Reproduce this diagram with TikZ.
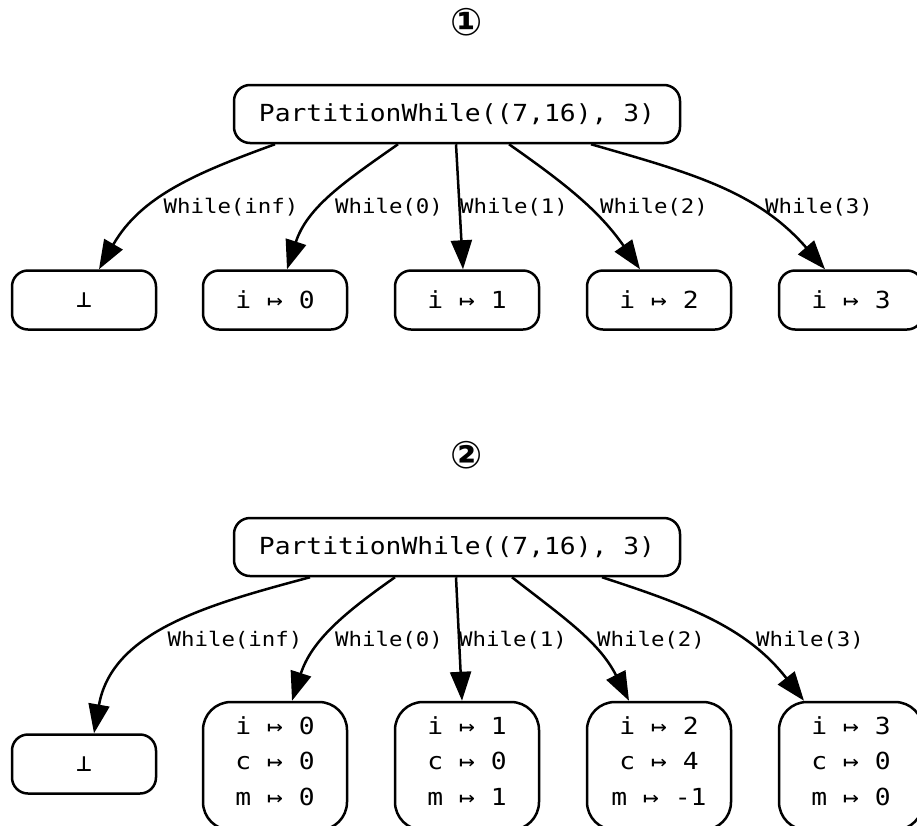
\documentclass[tikz,border=0pt]{standalone}
\usepackage{fontspec}
\usetikzlibrary{arrows.meta}
\newfontfamily\gvmono[FakeStretch=1.12]{DejaVu Sans Mono}
\newfontfamily\gvsans{DejaVu Sans}

\begin{document}
\begin{tikzpicture}[x=1pt, y=-1pt, line width=2.5pt,
  box/.style={draw, rounded corners=16pt, inner sep=0pt, minimum width=144pt, minimum height=59pt,
    align=center, font=\gvmono\fontsize{23.5}{35.5}\selectfont},
  tallbox/.style={box, rounded corners=28pt, minimum height=128pt, text depth=10pt},
  lbl/.style={inner sep=0pt, font=\gvmono\fontsize{20}{24}\selectfont},
  edge/.style={-{Triangle[length=29pt,width=21pt]}},
  stepmark/.style={font=\gvsans\bfseries\fontsize{38}{44}\selectfont}]
\useasboundingbox (0,0) rectangle (917,825);

% first run
\node[stepmark] (stepA) at (467,22) {①};
\node[box, minimum width=446pt, minimum height=58pt] (rootA) at (457,114) {PartitionWhile((7,16), 3)};
\node[box] (botA) at (84,300) {⊥};
\node[box] (a0) at (275,300) {i ↦ 0};
\node[box] (a1) at (467,300) {i ↦ 1};
\node[box] (a2) at (659,300) {i ↦ 2};
\node[box] (a3) at (851,300) {i ↦ 3};

\draw[edge] ([xshift=-182pt]rootA.south) to[out=200, in=60] ([xshift=15pt]botA.north);
\draw[edge] ([xshift=-59pt]rootA.south) to[out=215, in=72] ([xshift=12pt]a0.north);
\draw[edge] ([xshift=-1pt]rootA.south) -- ([xshift=-4pt]a1.north);
\draw[edge] ([xshift=52pt]rootA.south) to[out=-35, in=125] ([xshift=-19pt]a2.north);
\draw[edge] ([xshift=134pt]rootA.south) to[out=-16, in=131] ([xshift=-26pt]a3.north);

\node[lbl] (la0) at (231,207) {While(inf)};
\node[lbl] (la1) at (389,207) {While(0)};
\node[lbl] (la2) at (514,207) {While(1)};
\node[lbl] (la3) at (654,207) {While(2)};
\node[lbl] (la4) at (819,207) {While(3)};

% second run
\node[stepmark] (stepB) at (467,455) {②};
\node[box, minimum width=446pt, minimum height=58pt] (rootB) at (457,547) {PartitionWhile((7,16), 3)};
\node[box] (botB) at (84,764) {⊥};
\node[tallbox] (b0) at (275,766) {i ↦ 0\\c ↦ 0\\m ↦ 0};
\node[tallbox] (b1) at (467,766) {i ↦ 1\\c ↦ 0\\m ↦ 1};
\node[tallbox] (b2) at (659,766) {i ↦ 2\\c ↦ 4\\m ↦ -1};
\node[tallbox] (b3) at (851,766) {i ↦ 3\\c ↦ 0\\m ↦ 0};

\draw[edge] ([xshift=-147pt]rootB.south) to[out=195, in=80] ([xshift=10pt]botB.north);
\draw[edge] ([xshift=-62pt]rootB.south) to[out=215, in=72] ([xshift=17pt]b0.north);
\draw[edge] ([xshift=-1pt]rootB.south) -- ([xshift=-5pt]b1.north);
\draw[edge] ([xshift=55pt]rootB.south) to[out=-38, in=117] ([xshift=-30pt]b2.north);
\draw[edge] ([xshift=145pt]rootB.south) to[out=-18, in=128] ([xshift=-47pt]b3.north);

\node[lbl] (lb0) at (235,640) {While(inf)};
\node[lbl] (lb1) at (389,640) {While(0)};
\node[lbl] (lb2) at (513,640) {While(1)};
\node[lbl] (lb3) at (651,640) {While(2)};
\node[lbl] (lb4) at (810,640) {While(3)};
\end{tikzpicture}
\end{document}
